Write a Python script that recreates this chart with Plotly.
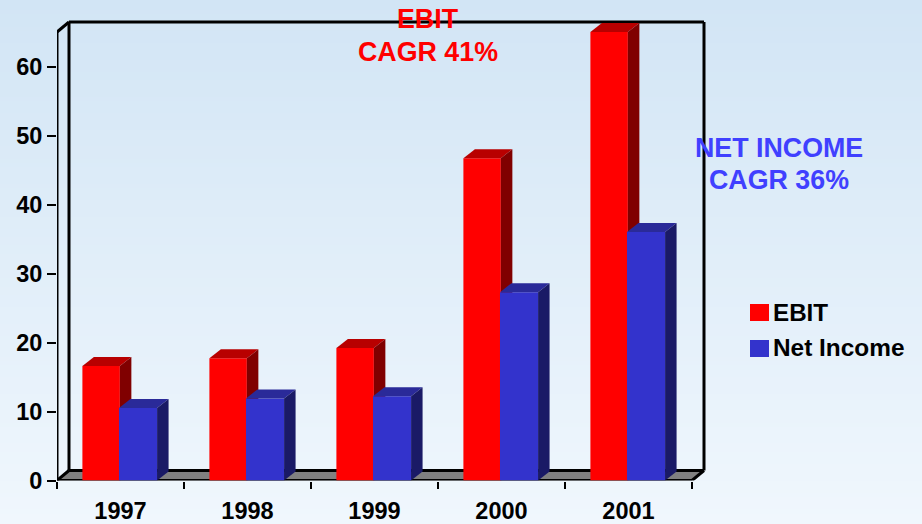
import numpy as np
import plotly.graph_objects as go

years = ["1997", "1998", "1999", "2000", "2001"]
ebit = [16.6, 17.7, 19.2, 46.7, 65.0]
net_income = [10.5, 11.9, 12.2, 27.3, 36.0]
y_ticks = [0, 10, 20, 30, 40, 50, 60]

W, H = 922, 524
FONT = "Liberation Sans"
# plot geometry (pixels)
X0, SLOT = 57.0, 127.0
Y0, UNIT = 480.5, 6.9
X_MAX, Y_MAX = 5.2, 67.0
# 3D depth in data units
BAR_DX, BAR_DY = 11.5 / SLOT, 9.0 / UNIT
WALL_DX, WALL_DY = 12.0 / SLOT, 10.0 / UNIT
WALL_TOP = 65.0
N = len(years)

dom_x = [X0 / W, (X0 + X_MAX * SLOT) / W]
dom_y = [(H - Y0) / H, (H - Y0 + Y_MAX * UNIT) / H]

RED = dict(front="#ff0000", top="#b80000", side="#800000", off=-0.30, w=0.295)
BLUE = dict(front="#3333cc", top="#2a2a99", side="#1a1a66", off=-0.012, w=0.30)

fig = go.Figure()

# gradient page background
rows = np.linspace(0, 1, 128)
fig.add_trace(go.Heatmap(
    z=[[v] for v in rows], x=[0], y=rows, showscale=False, hoverinfo="skip",
    colorscale=[[0, "#f0f7fd"], [1, "#d2e5f5"]], xaxis="x", yaxis="y", zmin=0, zmax=1,
))


def add_bars(values, style, name, xa, ya):
    cx = [i + 0.5 for i in range(N)]
    fig.add_trace(go.Bar(
        x=cx, y=values, name=name, width=style["w"], offset=style["off"],
        marker=dict(color=style["front"], line=dict(width=0)),
        xaxis=xa, yaxis=ya, showlegend=False,
    ))
    for c, v in zip(cx, values):
        l = c + style["off"]
        r = l + style["w"]
        fig.add_trace(go.Scatter(
            x=[l, r, r + BAR_DX, l + BAR_DX, l], y=[v, v, v + BAR_DY, v + BAR_DY, v],
            fill="toself", fillcolor=style["top"], mode="lines", line=dict(width=0),
            hoverinfo="skip", showlegend=False, xaxis=xa, yaxis=ya,
        ))
        fig.add_trace(go.Scatter(
            x=[r, r + BAR_DX, r + BAR_DX, r, r], y=[0, BAR_DY, v + BAR_DY, v, 0],
            fill="toself", fillcolor=style["side"], mode="lines", line=dict(width=0),
            hoverinfo="skip", showlegend=False, xaxis=xa, yaxis=ya,
        ))


add_bars(ebit, RED, "EBIT", "x2", "y2")
add_bars(net_income, BLUE, "Net Income", "x3", "y3")

shapes = []
refs = dict(xref="x2", yref="y2", layer="below")
# floor
shapes.append(dict(type="path", **refs, fillcolor="#808080", line=dict(width=0),
                   path=f"M0,0 L{N},0 L{N + WALL_DX},{WALL_DY} L{WALL_DX},{WALL_DY} Z"))


def seg(x1, y1, x2, y2, w=3):
    shapes.append(dict(type="line", x0=x1, y0=y1, x1=x2, y1=y2, **refs,
                       line=dict(color="#000000", width=w)))


seg(0, 0, 0, WALL_TOP)                                # front-left axis
seg(0, 0, N, 0)                                       # front floor edge
seg(0, WALL_TOP, WALL_DX, WALL_TOP + WALL_DY)         # top-left diagonal
seg(0, 0, WALL_DX, WALL_DY)                           # bottom-left diagonal
seg(N, 0, N + WALL_DX, WALL_DY)                       # bottom-right diagonal
seg(WALL_DX, WALL_DY, WALL_DX, WALL_TOP + WALL_DY)    # back-left vertical
seg(N + WALL_DX, WALL_DY, N + WALL_DX, WALL_TOP + WALL_DY)  # back-right vertical
seg(WALL_DX, WALL_TOP + WALL_DY, N + WALL_DX, WALL_TOP + WALL_DY)  # back top
seg(WALL_DX, WALL_DY, N + WALL_DX, WALL_DY)           # back floor edge


def px_x(p):
    return p / W


def px_y(p):
    return 1 - p / H


# legend swatches
for top, color in [(304, RED["front"]), (340, BLUE["front"])]:
    shapes.append(dict(type="rect", xref="paper", yref="paper", layer="above",
                       x0=px_x(750), x1=px_x(769), y0=px_y(top), y1=px_y(top + 17),
                       fillcolor=color, line=dict(width=0)))


def note(text, x, y, color, size, anchor="center"):
    return dict(text=text, x=px_x(x), y=px_y(y), xref="paper", yref="paper", showarrow=False,
                xanchor=anchor, yanchor="middle",
                font=dict(family=FONT, size=size, color=color, weight=700))


annotations = [
    note("EBIT", 428, 19, "#ff0000", 26.8),
    note("CAGR 41%", 428, 52, "#ff0000", 26.8),
    note("NET INCOME", 779, 148, "#4040ff", 26.8),
    note("CAGR 36%", 779, 180, "#4040ff", 26.8),
    note("EBIT", 771, 312, "#000000", 24.2, "left"),
    note("Net Income", 771, 347, "#000000", 24.4, "left"),
]

tick_font = dict(family=FONT, size=23.5, color="#000000", weight=700)
hidden = dict(visible=False, fixedrange=True)

fig.update_layout(
    width=W, height=H, margin=dict(l=0, r=0, t=0, b=0, pad=0, autoexpand=False), autosize=False,
    paper_bgcolor="#eaf3fb", plot_bgcolor="rgba(0,0,0,0)", barmode="overlay", showlegend=False,
    shapes=shapes, annotations=annotations,
    xaxis=dict(domain=[0, 1], range=[-0.5, 0.5], **hidden),
    yaxis=dict(domain=[0, 1], range=[0, 1], **hidden),
    xaxis2=dict(
        domain=dom_x, range=[0, X_MAX], anchor="y2", showgrid=False, zeroline=False, showline=False,
        tickmode="array", tickvals=[i + 0.5 for i in range(N)], ticktext=years,
        ticks="outside", ticklen=9, tickcolor="rgba(0,0,0,0)",
        tickfont=tick_font,
        minor=dict(tickmode="array", tickvals=list(range(N + 1)), ticks="outside",
                   ticklen=7, tickwidth=2, tickcolor="#000000"),
        fixedrange=True,
    ),
    yaxis2=dict(
        domain=dom_y, range=[0, Y_MAX], anchor="x2", showgrid=False, zeroline=False, showline=False,
        tickmode="array", tickvals=y_ticks, ticks="outside", ticklen=9, tickwidth=2, tickcolor="#000000",
        tickfont=tick_font, fixedrange=True,
    ),
    xaxis3=dict(overlaying="x2", range=[0, X_MAX], anchor="y3", **hidden),
    yaxis3=dict(overlaying="y2", range=[0, Y_MAX], anchor="x3", **hidden),
)

fig.write_html("out.html", config=dict(displayModeBar=False),
               post_script="document.body.style.margin='0';document.body.style.overflow='hidden';")
